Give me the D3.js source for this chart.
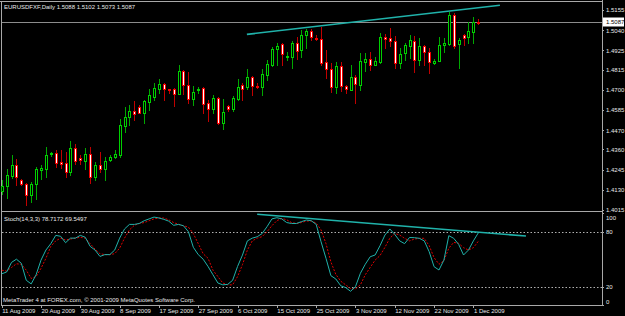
<!DOCTYPE html>
<html>
  <head>
    <meta charset="utf-8">
    <title>EURUSDFXF,Daily</title>
    <script src="https://d3js.org/d3.v7.min.js"></script>
    <style>
      body { margin: 0; background: #000; overflow: hidden; }
      svg { display: block; }
      text { fill: #e8e8e8; font-family: "Liberation Sans", Arial, sans-serif; font-size: 6px; }
      .frame { stroke: #a8a8a8; stroke-width: 1; shape-rendering: crispEdges; }
      .axis .domain { display: none; }
      .axis line { stroke: #a8a8a8; shape-rendering: crispEdges; }
    </style>
  </head>
  <body>
    <svg id="chart" width="625" height="316"></svg>
    <script>
      // daily bars, 11 Aug 2009 .. 2 Dec 2009 (bar index 0..97)
      opens = [1.4123, 1.4152, 1.4209, 1.4272, 1.4186, 1.4163, 1.4101, 1.4163, 1.4243, 1.4249,
        1.4334, 1.4340, 1.4289, 1.4283, 1.4232, 1.4368, 1.4311, 1.4294, 1.4334, 1.4203,
        1.4272, 1.4249, 1.4300, 1.4317, 1.4329, 1.4494, 1.4545, 1.4579, 1.4602, 1.4568,
        1.4631, 1.4659, 1.4705, 1.4733, 1.4705, 1.4705, 1.4676, 1.4807, 1.4728, 1.4648,
        1.4699, 1.4710, 1.4625, 1.4591, 1.4653, 1.4511, 1.4608, 1.4591, 1.4648, 1.4728,
        1.4716, 1.4773, 1.4722, 1.4716, 1.4785, 1.4842, 1.4933, 1.4961, 1.4887, 1.4887,
        1.4967, 1.4927, 1.5013, 1.5035, 1.4995, 1.4990, 1.4859, 1.4819, 1.4716, 1.4836,
        1.4722, 1.4699, 1.4773, 1.4728, 1.4859, 1.4876, 1.4842, 1.4859, 1.5001, 1.4995,
        1.4978, 1.4853, 1.4910, 1.4950, 1.4978, 1.4870, 1.4950, 1.4916, 1.4853, 1.4864,
        1.4956, 1.4961, 1.5127, 1.4961, 1.5013, 1.5001, 1.5030, 1.5088];
      highs = [1.4186, 1.4249, 1.4329, 1.4306, 1.4192, 1.4169, 1.4175, 1.4260, 1.4272, 1.4374,
        1.4346, 1.4357, 1.4357, 1.4346, 1.4408, 1.4391, 1.4329, 1.4368, 1.4374, 1.4289,
        1.4346, 1.4317, 1.4329, 1.4357, 1.4534, 1.4602, 1.4614, 1.4636, 1.4614, 1.4642,
        1.4705, 1.4739, 1.4762, 1.4739, 1.4705, 1.4710, 1.4842, 1.4813, 1.4802, 1.4722,
        1.4716, 1.4716, 1.4642, 1.4671, 1.4659, 1.4648, 1.4614, 1.4665, 1.4762, 1.4739,
        1.4819, 1.4779, 1.4739, 1.4819, 1.4870, 1.4944, 1.4967, 1.4967, 1.4916, 1.4978,
        1.5001, 1.5041, 1.5047, 1.5047, 1.5013, 1.5058, 1.4927, 1.4853, 1.4859, 1.4859,
        1.4728, 1.4842, 1.4785, 1.4910, 1.4910, 1.4916, 1.4887, 1.5024, 1.5018, 1.5052,
        1.5007, 1.4938, 1.4967, 1.5013, 1.5007, 1.4995, 1.4956, 1.4938, 1.4876, 1.5001,
        1.4995, 1.5144, 1.5138, 1.4995, 1.5018, 1.5087, 1.5115, 1.5102];
      lows = [1.4106, 1.4083, 1.4197, 1.4158, 1.4158, 1.4044, 1.4061, 1.4078, 1.4192, 1.4203,
        1.4323, 1.4260, 1.4254, 1.4203, 1.4215, 1.4277, 1.4277, 1.4249, 1.4169, 1.4186,
        1.4232, 1.4186, 1.4294, 1.4311, 1.4317, 1.4460, 1.4500, 1.4528, 1.4568, 1.4511,
        1.4585, 1.4642, 1.4682, 1.4642, 1.4682, 1.4608, 1.4676, 1.4676, 1.4625, 1.4614,
        1.4682, 1.4568, 1.4522, 1.4568, 1.4505, 1.4477, 1.4579, 1.4579, 1.4642, 1.4642,
        1.4705, 1.4671, 1.4710, 1.4671, 1.4756, 1.4836, 1.4842, 1.4842, 1.4870, 1.4824,
        1.4876, 1.4887, 1.4938, 1.4984, 1.4984, 1.4842, 1.4767, 1.4688, 1.4682, 1.4693,
        1.4682, 1.4699, 1.4625, 1.4699, 1.4807, 1.4813, 1.4842, 1.4853, 1.4938, 1.4950,
        1.4824, 1.4824, 1.4870, 1.4881, 1.4802, 1.4842, 1.4842, 1.4796, 1.4847, 1.4864,
        1.4916, 1.4956, 1.4938, 1.4824, 1.4956, 1.4967, 1.4967, 1.5073];
      closes = [1.4152, 1.4215, 1.4272, 1.4203, 1.4163, 1.4101, 1.4163, 1.4249, 1.4254, 1.4329,
        1.4340, 1.4283, 1.4277, 1.4232, 1.4368, 1.4294, 1.4300, 1.4334, 1.4203, 1.4272,
        1.4249, 1.4294, 1.4317, 1.4334, 1.4500, 1.4545, 1.4579, 1.4562, 1.4568, 1.4636,
        1.4671, 1.4710, 1.4733, 1.4705, 1.4699, 1.4676, 1.4807, 1.4728, 1.4648, 1.4688,
        1.4705, 1.4619, 1.4591, 1.4653, 1.4511, 1.4574, 1.4591, 1.4653, 1.4716, 1.4705,
        1.4773, 1.4722, 1.4716, 1.4790, 1.4847, 1.4933, 1.4950, 1.4904, 1.4893, 1.4967,
        1.4921, 1.5013, 1.5035, 1.5001, 1.4987, 1.4853, 1.4819, 1.4716, 1.4836, 1.4722,
        1.4705, 1.4773, 1.4733, 1.4864, 1.4876, 1.4842, 1.4864, 1.5001, 1.4990, 1.4978,
        1.4853, 1.4904, 1.4956, 1.4984, 1.4870, 1.4950, 1.4916, 1.4859, 1.4864, 1.4956,
        1.4967, 1.5127, 1.4950, 1.4984, 1.4995, 1.5035, 1.5087, 1.5087];
      // Stochastic(14,3,3)
      stochK = [34, 36, 46.5, 50, 45.5, 27, 23, 33, 49, 60,
        67, 76, 75, 68, 73, 73, 76, 74, 64, 60,
        53, 55, 55, 60, 73, 83, 88, 88, 89, 92,
        94, 96, 95, 93.5, 91.5, 87, 88, 86.5, 80, 63,
        55, 50, 42, 33, 24, 22, 22.5, 27, 42, 54.5,
        70, 73, 74.5, 78, 85.5, 94, 95.3, 94, 90, 89,
        89, 91, 92.8, 92, 88, 69, 51, 32, 28.4, 21,
        19, 15, 20, 34.6, 44.5, 52.7, 54.6, 64.8, 76.4, 83,
        77, 70, 67, 73.7, 73.5, 72.8, 70, 58.2, 41.8, 38.2,
        49, 75.7, 72.8, 66.2, 54.6, 60, 70, 78.7172];
      stochD = [38, 37, 41, 45, 44.5, 38, 29, 31, 40, 51,
        64, 70, 73, 71, 72, 73, 74, 73, 67, 61,
        56, 55, 55, 56, 62, 73, 82, 87, 89, 90,
        92, 94, 95, 95, 93, 90, 88, 86.5, 85, 78,
        67, 56, 51, 38, 31, 24, 22, 22, 31, 44,
        60, 70, 73, 74.6, 80, 86.6, 92, 94.6, 93, 90,
        89, 90, 91.7, 91.7, 89.5, 82, 67, 47, 33.5, 26,
        22, 18, 17.5, 22, 33, 41, 49, 54, 63, 73,
        78, 76.4, 72.8, 70, 72, 72.8, 72.8, 64.8, 51.7, 44.5,
        48.3, 62, 68.4, 67.3, 62.6, 60, 62.6, 69.5497];
      // axes
      priceTicks = [1.5155, 1.5040, 1.4925, 1.4815, 1.4700, 1.4585, 1.4470, 1.4360, 1.4245, 1.4130, 1.4015];
      stochTicks = [100, 80, 20, 0];
      stochLevels = [80, 20];
      dateLabels = ["11 Aug 2009", "20 Aug 2009", "30 Aug 2009", "8 Sep 2009", "17 Sep 2009", "27 Sep 2009",
        "6 Oct 2009", "15 Oct 2009", "25 Oct 2009", "3 Nov 2009", "12 Nov 2009", "22 Nov 2009", "1 Dec 2009"];
      dateBars = [0, 8, 16, 24, 32, 40, 48, 56, 64, 72, 80, 88, 96];
      bidPrice = 1.5087;
      // hand-drawn trend lines: [bar, value] pairs
      priceTrend = [[49.9, 1.5016], [101.4, 1.5182]];
      stochTrend = [[52.0, 99], [106.7, 75.3]];

      svg = d3.select("#chart");
      x = d3.scaleLinear().domain([0, 97]).range([1.7, 478.3]);
      y = d3.scaleLinear().domain([1.4015, 1.5155]).range([210, 10]);
      ys = d3.scaleLinear().domain([0, 100]).range([305, 213.4]);

      // frame
      frame = svg.append("g");
      [[0, 1.5, 603, 1.5], [1.5, 1, 1.5, 306], [602.5, 0, 602.5, 306], [1, 211.5, 603, 211.5], [1, 305.5, 603, 305.5]]
        .forEach(function(l) {
          frame.append("line").attr("class", "frame")
            .attr("x1", l[0]).attr("y1", l[1]).attr("x2", l[2]).attr("y2", l[3]);
        });

      // bid line
      svg.append("line")
        .attr("x1", 2).attr("x2", 602)
        .attr("y1", Math.round(y(bidPrice)) + 0.5).attr("y2", Math.round(y(bidPrice)) + 0.5)
        .attr("stroke", "#8c8c8c").attr("shape-rendering", "crispEdges");

      // candles
      bars = d3.range(opens.length).map(function(i) {
        return { i: i, open: opens[i], high: highs[i], low: lows[i], close: closes[i] };
      });
      candles = svg.append("g").selectAll(".candle")
          .data(bars)
        .enter().append("g")
          .attr("class", "candle")
          .attr("transform", function(d) { return "translate(" + Math.round(x(d.i)) + ",0)"; })
          .attr("shape-rendering", "crispEdges");
      candles.append("line")
        .attr("x1", 0.5).attr("x2", 0.5)
        .attr("y1", function(d) { return Math.round(y(d.high)); })
        .attr("y2", function(d) { return Math.round(y(d.low)) + 1; })
        .attr("stroke", function(d) { return d.close > d.open ? "#00a800" : "#c00000"; });
      candles.append("rect")
        .attr("x", -0.5).attr("width", 2)
        .attr("y", function(d) { return Math.round(y(Math.max(d.open, d.close))) + 0.5; })
        .attr("height", function(d) { return Math.max(1, Math.round(Math.abs(y(d.open) - y(d.close)))); })
        .attr("fill", function(d) { return d.close > d.open ? "#000" : "#fff"; })
        .attr("stroke", function(d) { return d.close > d.open ? "#00d000" : "#f00000"; });

      // price trend line
      svg.append("line")
        .attr("x1", x(priceTrend[0][0])).attr("y1", y(priceTrend[0][1]))
        .attr("x2", x(priceTrend[1][0])).attr("y2", y(priceTrend[1][1]))
        .attr("stroke", "#20b2aa").attr("stroke-width", 1.6);

      // price axis
      priceAxis = d3.axisRight(y).tickValues(priceTicks).tickSize(2).tickPadding(2)
        .tickFormat(d3.format(".4f"));
      svg.append("g").attr("class", "axis").attr("transform", "translate(602,0)").call(priceAxis);
      svg.append("rect").attr("x", 603).attr("y", Math.round(y(bidPrice)) - 4.5)
        .attr("width", 21).attr("height", 9).attr("fill", "#fff");
      svg.append("text").attr("x", 606).attr("y", y(bidPrice)).attr("dy", "0.34em")
        .style("fill", "#000").text(d3.format(".4f")(bidPrice));

      // title
      svg.append("text").attr("x", 4).attr("y", 8.5)
        .text("EURUSDFXF,Daily  " + [opens[97], highs[97], lows[97], closes[97]].map(d3.format(".4f")).join(" "));

      // stochastic panel
      svg.append("g").selectAll("line")
          .data(stochLevels)
        .enter().append("line")
          .attr("x1", 2).attr("x2", 602)
          .attr("y1", function(d) { return Math.round(ys(d)) + 0.5; })
          .attr("y2", function(d) { return Math.round(ys(d)) + 0.5; })
          .attr("stroke", "#b0b0b0").attr("stroke-dasharray", "1.5,2");
      line = d3.line().x(function(d, i) { return x(i); }).y(function(d) { return ys(d); });
      svg.append("path").attr("d", line(stochD))
        .attr("fill", "none").attr("stroke", "#e00000").attr("stroke-dasharray", "2,1.5");
      svg.append("path").attr("d", line(stochK))
        .attr("fill", "none").attr("stroke", "#20b2aa");
      svg.append("line")
        .attr("x1", x(stochTrend[0][0])).attr("y1", ys(stochTrend[0][1]))
        .attr("x2", x(stochTrend[1][0])).attr("y2", ys(stochTrend[1][1]))
        .attr("stroke", "#20b2aa").attr("stroke-width", 1.6);

      stochAxis = d3.axisRight(ys).tickValues(stochTicks).tickSize(2).tickPadding(2);
      stochAxisGroup = svg.append("g").attr("class", "axis").attr("transform", "translate(602,0)").call(stochAxis);
      stochAxisGroup.selectAll("text")
        .attr("dy", function(d) { return d === 100 ? "1em" : d === 0 ? "-0.25em" : "0.32em"; });

      svg.append("text").attr("x", 4).attr("y", 221)
        .text("Stoch(14,3,3) " + d3.format(".4f")(stochK[97]) + " " + d3.format(".4f")(stochD[97]));
      svg.append("text").attr("x", 3).attr("y", 302)
        .text("MetaTrader 4 at FOREX.com, \u00a9 2001-2009 MetaQuotes Software Corp.");

      // date axis
      dateAxis = d3.axisBottom(x).tickValues(dateBars).tickSize(2).tickPadding(1)
        .tickFormat(function(d, i) { return dateLabels[i]; });
      dateAxisGroup = svg.append("g").attr("class", "axis").attr("transform", "translate(0,306)").call(dateAxis);
      dateAxisGroup.selectAll("text").attr("text-anchor", "start").attr("x", 0);
    </script>
  </body>
</html>
